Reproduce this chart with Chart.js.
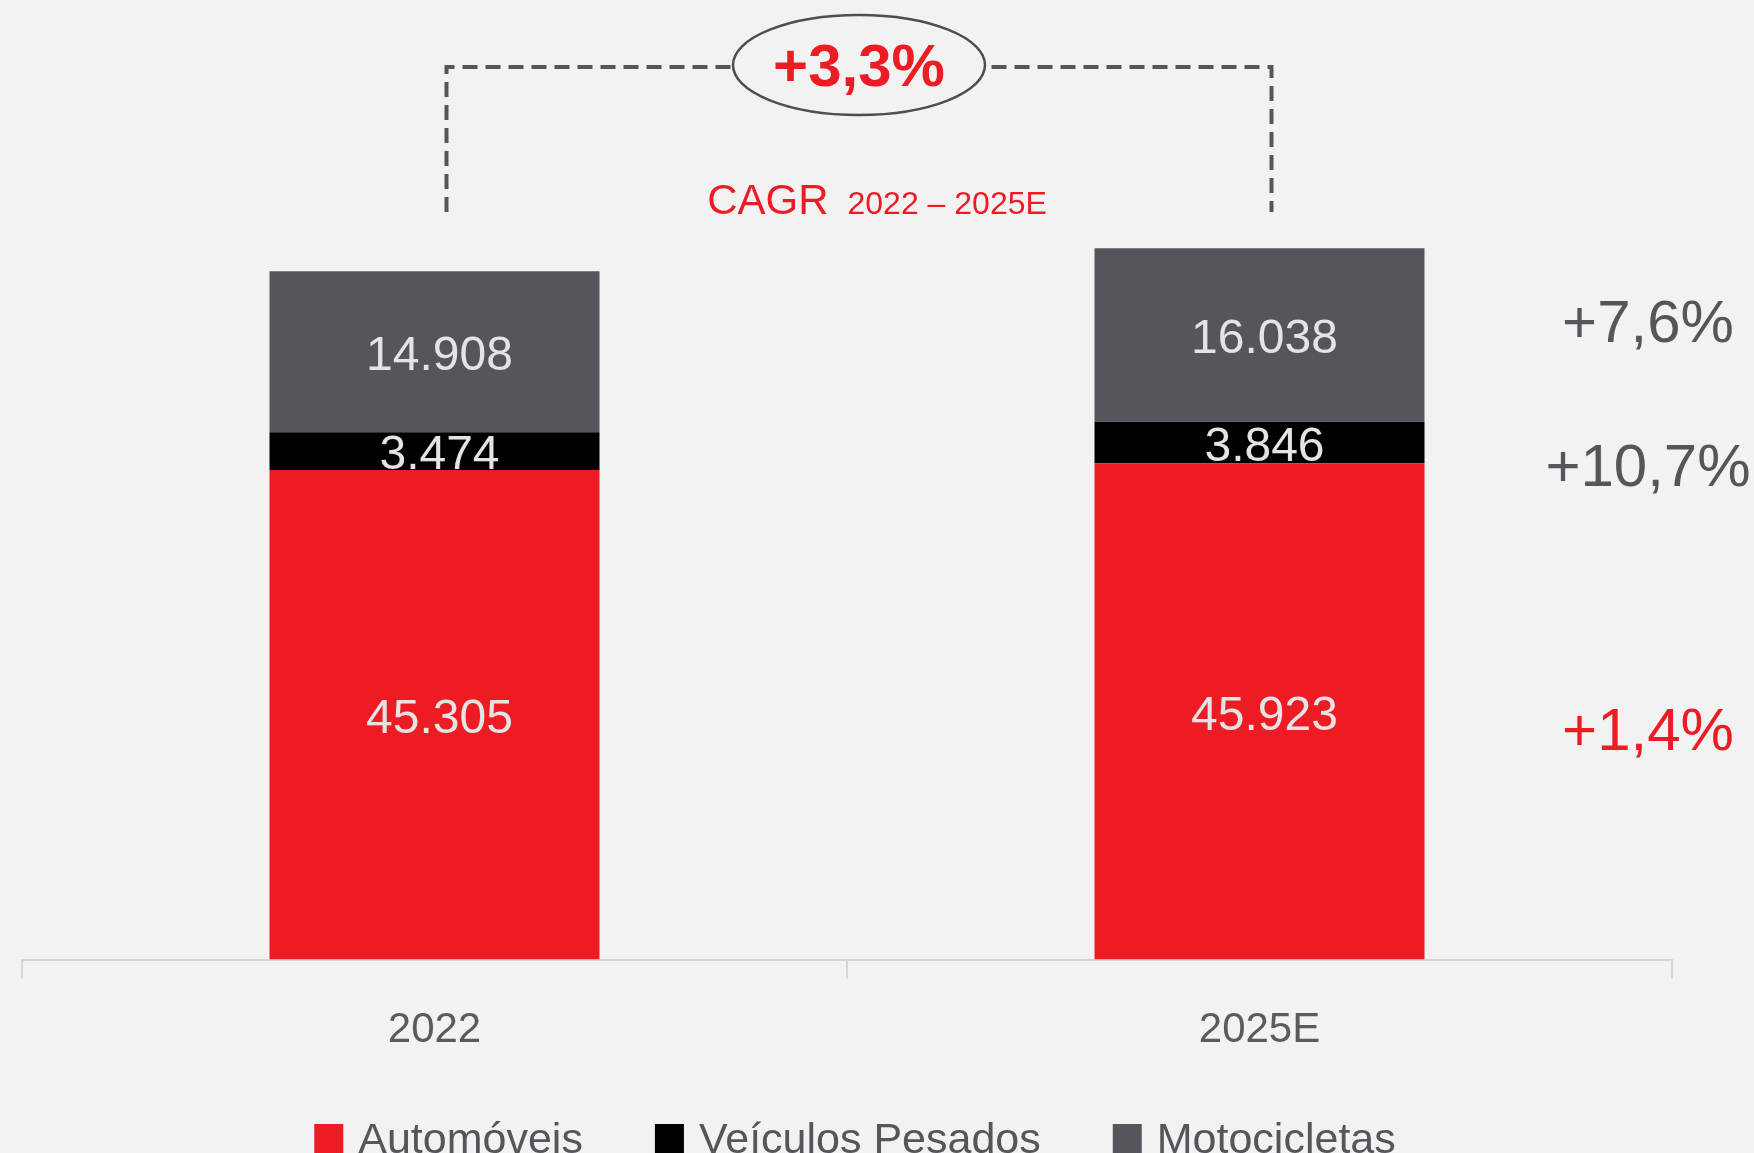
<!DOCTYPE html>
<html lang="pt-BR">
<head>
<meta charset="utf-8">
<title>Frota 2022 - 2025E</title>
<script src="https://cdn.jsdelivr.net/npm/chart.js@4.4.1/dist/chart.umd.min.js"></script>
<style>
html, body { margin: 0; padding: 0; background: #f2f2f2; overflow: hidden; }
#boite { position: relative; width: 1754px; height: 1153px; }
</style>
</head>
<body>
<div id="boite"><canvas id="myChart"></canvas></div>
<script>
// --- Dados ---
const categorias = ['2022', '2025E'];
const automoveis = [45305, 45923];
const veiculosPesados = [3474, 3846];
const motocicletas = [14908, 16038];
const nomesSeries = ['Automóveis', 'Veículos Pesados', 'Motocicletas'];
const cagrSeries = ['+1,4%', '+10,7%', '+7,6%'];
const cagrTotal = '+3,3%';
const periodoCagr = '2022 – 2025E';

const VERMELHO = '#ed1c24';
const PRETO = '#000000';
const CINZA = '#55565b';
const FUNDO = '#f2f2f2';
const FONTE = "'Liberation Sans', Arial, sans-serif";

function formatarMilhar(v) {
  return String(v).replace(/\B(?=(\d{3})+(?!\d))/g, '.');
}

// texte centré sur la hauteur des capitales
function texteCentre(ctx, texte, x, yCentre, taille, cor, peso) {
  ctx.font = (peso || 'normal') + ' ' + taille + 'px ' + FONTE;
  ctx.fillStyle = cor;
  ctx.textAlign = 'center';
  ctx.textBaseline = 'alphabetic';
  ctx.fillText(texte, x, yCentre + taille * 0.358);
}

// --- valeurs dans les barres (coupées au bord du segment) ---
const pluginValores = {
  id: 'valores',
  afterDatasetsDraw(chart) {
    const ctx = chart.ctx;
    chart.data.datasets.forEach((ds, i) => {
      chart.getDatasetMeta(i).data.forEach((barra, j) => {
        const topo = Math.min(barra.y, barra.base);
        const h = Math.abs(barra.base - barra.y);
        ctx.save();
        ctx.beginPath();
        ctx.rect(barra.x - barra.width / 2, topo, barra.width, h);
        ctx.clip();
        texteCentre(ctx, formatarMilhar(ds.data[j]), barra.x + 5, topo + h / 2 + 1, 48, '#e4e4e4');
        ctx.restore();
      });
    });
  }
};

// --- CAGR : crochet, ellipse, taux par série, légende ---
const pluginCagr = {
  id: 'cagr',
  afterDraw(chart) {
    const ctx = chart.ctx;
    const area = chart.chartArea;
    const topos = chart.getDatasetMeta(2).data;
    const xE = topos[0].x + 12, xD = topos[1].x + 12;
    const xC = (xE + xD) / 2;
    const yLinha = 67, yFim = 212;

    ctx.save();
    ctx.strokeStyle = CINZA;
    ctx.lineWidth = 4;
    ctx.setLineDash([15, 8]);
    ctx.beginPath();
    ctx.moveTo(xE, yFim);
    ctx.lineTo(xE, yLinha);
    ctx.lineTo(xD, yLinha);
    ctx.lineTo(xD, yFim);
    ctx.stroke();

    ctx.setLineDash([]);
    ctx.beginPath();
    ctx.ellipse(xC, 65, 126, 50, 0, 0, Math.PI * 2);
    ctx.fillStyle = FUNDO;
    ctx.fill();
    ctx.lineWidth = 2.5;
    ctx.strokeStyle = '#4d4d52';
    ctx.stroke();
    texteCentre(ctx, cagrTotal, xC, 65, 60, VERMELHO, 'bold');

    // "CAGR 2022 – 2025E"
    ctx.font = '42px ' + FONTE;
    const w1 = ctx.measureText('CAGR').width;
    ctx.font = '32px ' + FONTE;
    const w2 = ctx.measureText(periodoCagr).width;
    const espaco = 19;
    let x0 = xC + 18 - (w1 + espaco + w2) / 2;
    ctx.fillStyle = VERMELHO;
    ctx.textAlign = 'left';
    ctx.textBaseline = 'alphabetic';
    ctx.font = '42px ' + FONTE;
    ctx.fillText('CAGR', x0, 214);
    ctx.font = '32px ' + FONTE;
    ctx.fillText(periodoCagr, x0 + w1 + espaco, 214);

    // taux à droite, à côté des segments de 2025E
    const decalages = [17, 22, -14];
    cagrSeries.forEach((txt, i) => {
      const b = chart.getDatasetMeta(i).data[1];
      const yMeio = (b.y + b.base) / 2 + decalages[i];
      texteCentre(ctx, txt, area.right - 24, yMeio, 60, i === 0 ? VERMELHO : CINZA);
    });

    // légende
    const caixa = 29, folga = 15, entre = 72;
    ctx.font = '43px ' + FONTE;
    const larguras = chart.data.datasets.map(ds => caixa + folga + ctx.measureText(ds.label).width);
    const total = larguras.reduce((a, b) => a + b, 0) + entre * (larguras.length - 1);
    let x = (area.left + area.right) / 2 + 8 - total / 2;
    chart.data.datasets.forEach((ds, i) => {
      ctx.fillStyle = ds.backgroundColor;
      ctx.fillRect(x, 1124, caixa, caixa);
      ctx.fillStyle = CINZA;
      ctx.textAlign = 'left';
      ctx.fillText(ds.label, x + caixa + folga, 1153);
      x += larguras[i] + entre;
    });
    ctx.restore();
  }
};

const ctx = document.getElementById('myChart').getContext('2d');
new Chart(ctx, {
  type: 'bar',
  data: {
    labels: categorias,
    datasets: [
      { label: nomesSeries[0], data: automoveis, backgroundColor: VERMELHO },
      { label: nomesSeries[1], data: veiculosPesados, backgroundColor: PRETO },
      { label: nomesSeries[2], data: motocicletas, backgroundColor: CINZA }
    ]
  },
  options: {
    responsive: true,
    maintainAspectRatio: false,
    animation: false,
    layout: { padding: { top: 203, bottom: 70, left: 22, right: 82 } },
    datasets: { bar: { categoryPercentage: 0.4, barPercentage: 1 } },
    plugins: {
      legend: { display: false },
      tooltip: { enabled: false }
    },
    scales: {
      x: {
        stacked: true,
        grid: { drawOnChartArea: false, color: '#d6d6d6', lineWidth: 2, tickLength: 19 },
        border: { color: '#d6d6d6', width: 2 },
        ticks: { color: '#5a5a5f', font: { size: 42, family: FONTE }, padding: 27 }
      },
      y: { stacked: true, display: false, min: 0, max: 70000 }
    }
  },
  plugins: [pluginValores, pluginCagr]
});
</script>
</body>
</html>
